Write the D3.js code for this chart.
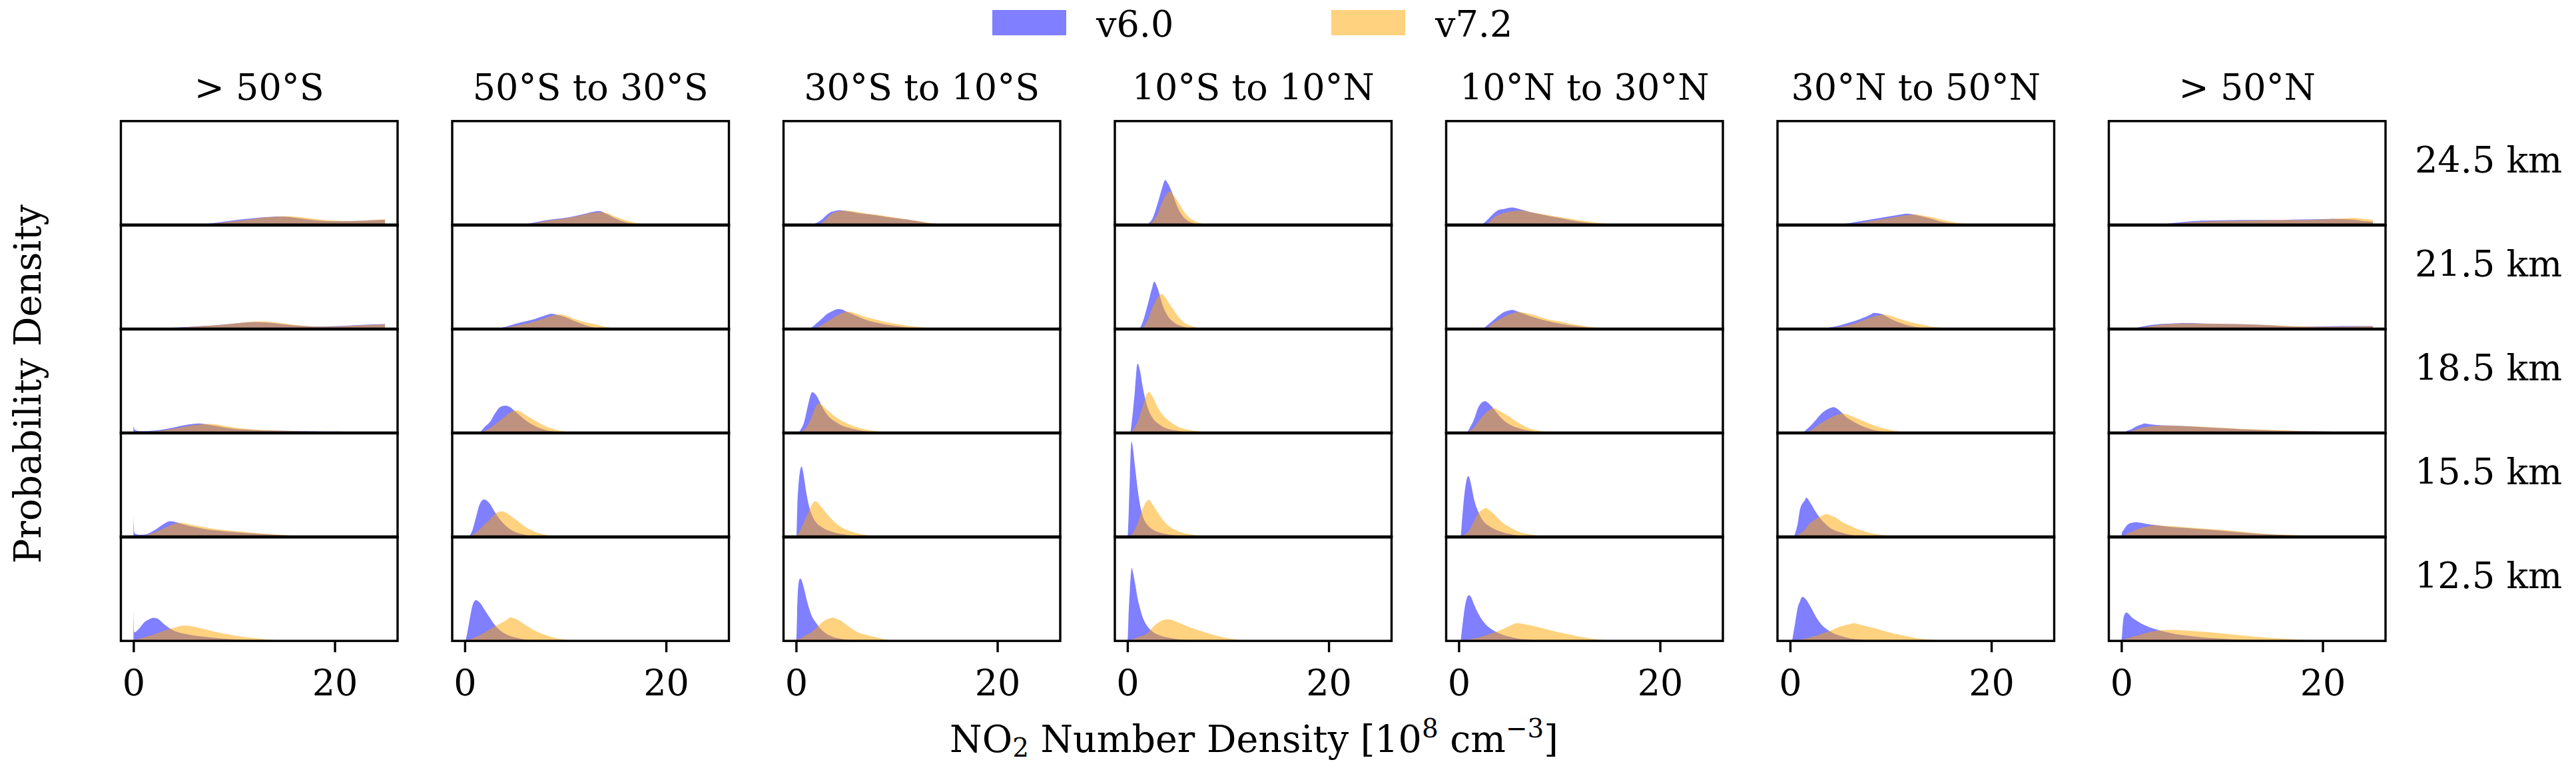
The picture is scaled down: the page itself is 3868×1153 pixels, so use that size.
<!DOCTYPE html>
<html>
<head>
<meta charset="utf-8">
<script src="https://cdn.jsdelivr.net/npm/d3@7"></script>
<style>
html, body { margin: 0; padding: 0; background: #ffffff; }
svg { display: block; }
text { font-family: "DejaVu Serif", serif; fill: #000; }
</style>
</head>
<body>
<div id="chart"></div>
<script>
// ---------------- DATA ----------------
const regions = ["> 50°S", "50°S to 30°S", "30°S to 10°S", "10°S to 10°N", "10°N to 30°N", "30°N to 50°N", "> 50°N"];
const altitudes = ["24.5 km", "21.5 km", "18.5 km", "15.5 km", "12.5 km"];
const seriesNames = ["v6.0", "v7.2"];
const seriesColors = ["#0000ff", "#ffa500"];
const xTicks = [0, 20];
const xDomain = [-1.25, 26.25];
const yDomain = [0, 1.35];

// Probability density curves: [NO2 value, density], one list per altitude (24.5 -> 12.5 km)
const v60_S50 = [
  [[6,0],[7,0.012],[8,0.028],[9,0.045],[10,0.062],[11,0.077],[12,0.09],[13,0.102],[14,0.11],[14.7,0.112],[15.5,0.105],[16,0.096],[17,0.078],[18,0.063],[19,0.053],[20,0.05],[21,0.05],[22,0.053],[23,0.058],[24,0.064],[25,0.068]],
  [[0.3,0],[0.5,0.01],[2,0.012],[4,0.018],[5,0.025],[6,0.033],[7,0.04],[8,0.048],[9,0.058],[10,0.07],[11,0.083],[12,0.09],[13,0.086],[14,0.076],[15,0.06],[16,0.047],[17,0.038],[18,0.033],[19,0.033],[20,0.037],[22,0.05],[24,0.06],[25,0.064]],
  [[0,0.088],[0.1,0.05],[0.3,0.03],[0.6,0.025],[1,0.024],[1.5,0.026],[2,0.03],[3,0.048],[4,0.072],[5,0.1],[6,0.12],[6.5,0.124],[7,0.118],[8,0.095],[9,0.072],[10,0.055],[11,0.045],[12,0.038],[14,0.03],[16,0.026],[18,0.023],[20,0.02],[22,0.017],[24,0.013],[25,0.012]],
  [[0,0.28],[0.08,0.06],[0.25,0.035],[0.5,0.03],[1,0.03],[1.5,0.045],[2,0.08],[2.5,0.125],[3,0.168],[3.6,0.205],[4,0.2],[4.5,0.182],[5,0.162],[6,0.13],[7,0.105],[8,0.087],[9,0.075],[10,0.064],[12,0.044],[14,0.026],[16,0.014],[18,0.006],[20,0.002],[22,0]],
  [[0,0.42],[0.08,0.11],[0.25,0.12],[0.5,0.15],[0.75,0.19],[1,0.232],[1.5,0.276],[2,0.3],[2.5,0.28],[3,0.222],[3.5,0.172],[4,0.134],[4.5,0.11],[5,0.094],[6,0.072],[7,0.055],[8,0.04],[9,0.03],[10,0.022],[12,0.011],[14,0.005],[16,0.002],[18,0]]
];
const v72_S50 = [
  [[6.5,0],[7,0.005],[8,0.018],[9,0.033],[10,0.048],[11,0.064],[12,0.082],[13,0.098],[14,0.108],[15,0.114],[16,0.11],[17,0.096],[18,0.08],[19,0.066],[20,0.057],[21,0.053],[22,0.054],[23,0.06],[24,0.068],[25,0.074]],
  [[2.5,0],[3,0.005],[4,0.012],[5,0.02],[6,0.03],[7,0.038],[8,0.047],[9,0.058],[10,0.07],[11,0.086],[12,0.098],[12.8,0.1],[14,0.088],[15,0.07],[16,0.053],[17,0.04],[18,0.032],[19,0.03],[20,0.032],[22,0.045],[24,0.055],[25,0.06]],
  [[0.3,0],[0.5,0.005],[1,0.01],[2,0.02],[3,0.035],[4,0.055],[5,0.08],[6,0.102],[7,0.116],[7.6,0.118],[8,0.114],[9,0.094],[10,0.072],[11,0.057],[12,0.046],[14,0.032],[16,0.024],[18,0.018],[20,0.013],[22,0.009],[24,0.006],[25,0.005]],
  [[0.3,0],[0.5,0.005],[1,0.015],[1.5,0.03],[2,0.052],[2.5,0.08],[3,0.11],[3.5,0.142],[4,0.168],[4.6,0.182],[5,0.178],[6,0.152],[7,0.128],[8,0.105],[9,0.09],[10,0.076],[12,0.054],[14,0.033],[16,0.017],[18,0.008],[20,0.003],[22,0]],
  [[0,0.015],[0.5,0.025],[1,0.044],[1.5,0.063],[2,0.083],[2.5,0.105],[3,0.13],[3.5,0.15],[4,0.168],[4.5,0.188],[5,0.198],[5.5,0.196],[6,0.186],[7,0.155],[8,0.12],[9,0.095],[10,0.072],[11,0.052],[12,0.036],[13,0.022],[14,0.012],[16,0.003],[18,0]]
];
const v60_S50_30 = [
  [[5,0],[6,0.011],[7,0.035],[8,0.061],[9,0.078],[10,0.094],[11,0.118],[12,0.149],[13,0.178],[13.3,0.182],[14,0.15],[15,0.085],[16,0.035],[17,0.01],[18,0.002],[19,0]],
  [[3,0],[4,0.028],[5,0.066],[6,0.099],[7,0.132],[8,0.176],[8.6,0.198],[9,0.19],[10,0.154],[11,0.099],[12,0.05],[13,0.017],[14,0.005],[15,0]],
  [[1.3,0],[1.5,0.01],[2,0.083],[2.5,0.143],[3,0.254],[3.5,0.336],[4,0.355],[4.5,0.336],[5,0.281],[6,0.171],[7,0.088],[8,0.039],[9,0.017],[10,0.005],[11,0]],
  [[0.4,0],[0.5,0.02],[0.75,0.083],[1,0.199],[1.5,0.43],[1.9,0.487],[2.5,0.43],[3,0.32],[3.5,0.226],[4,0.154],[4.5,0.1],[5,0.066],[6,0.028],[7,0.011],[8,0.003],[9,0]],
  [[0,0],[0.1,0.02],[0.25,0.11],[0.5,0.287],[0.75,0.452],[1.1,0.53],[1.5,0.496],[2,0.397],[2.5,0.298],[3,0.204],[3.5,0.138],[4,0.094],[4.5,0.065],[5,0.044],[6,0.017],[7,0.005],[8,0]]
];
const v72_S50_30 = [
  [[5.5,0],[6,0.005],[7,0.025],[8,0.05],[9,0.07],[10,0.088],[11,0.11],[12,0.14],[13,0.163],[13.6,0.166],[14,0.16],[15,0.108],[16,0.061],[17,0.028],[18,0.01],[19,0.003],[20,0]],
  [[3.5,0],[4,0.015],[5,0.04],[6,0.066],[7,0.1],[8,0.143],[9,0.182],[9.5,0.188],[10,0.178],[11,0.127],[12,0.088],[13,0.061],[14,0.028],[15,0.011],[16,0.003],[17,0]],
  [[1.3,0],[1.5,0.005],[2,0.028],[2.5,0.06],[3,0.11],[3.5,0.16],[4,0.215],[4.5,0.265],[5.2,0.292],[6,0.237],[7,0.16],[8,0.088],[9,0.044],[10,0.017],[11,0.005],[12,0]],
  [[0,0],[0.25,0.005],[0.5,0.015],[0.75,0.028],[1,0.044],[1.5,0.1],[2,0.165],[2.5,0.226],[3,0.298],[3.7,0.335],[4,0.322],[4.5,0.281],[5,0.232],[6,0.132],[7,0.066],[8,0.028],[9,0.011],[10,0.003],[11,0]],
  [[0,0.01],[0.5,0.02],[1,0.044],[1.5,0.075],[2,0.11],[2.5,0.15],[3,0.188],[3.5,0.225],[4,0.259],[4.6,0.305],[5,0.29],[6,0.21],[7,0.132],[8,0.077],[9,0.039],[10,0.017],[11,0.005],[12,0]]
];
const v60_S30_10 = [
  [[1.5,0],[2,0.028],[2.5,0.066],[3,0.127],[3.5,0.171],[4,0.188],[4.3,0.193],[5,0.182],[6,0.16],[7,0.143],[8,0.127],[9,0.105],[10,0.088],[11,0.072],[12,0.05],[13,0.028],[14,0.017],[15,0.005],[16,0]],
  [[1.2,0],[1.5,0.017],[2,0.072],[2.5,0.127],[3,0.188],[3.5,0.226],[4.2,0.259],[4.5,0.254],[5,0.226],[6,0.171],[7,0.116],[8,0.083],[9,0.055],[10,0.039],[11,0.022],[12,0.011],[13,0.005],[14,0]],
  [[0.25,0],[0.5,0.055],[0.75,0.121],[1,0.254],[1.25,0.4],[1.6,0.53],[2,0.49],[2.5,0.364],[3,0.254],[3.5,0.182],[4,0.138],[4.5,0.1],[5,0.077],[6,0.044],[7,0.022],[8,0.011],[9,0.005],[10,0]],
  [[0,0],[0.05,0.05],[0.1,0.3],[0.25,0.694],[0.55,0.915],[0.75,0.804],[1,0.584],[1.25,0.419],[1.5,0.309],[2,0.187],[2.5,0.132],[3,0.094],[3.5,0.07],[4,0.05],[4.5,0.038],[5,0.028],[6,0.011],[7,0.005],[8,0]],
  [[0,0],[0.05,0.1],[0.1,0.35],[0.25,0.755],[0.4,0.81],[0.5,0.8],[0.75,0.7],[1,0.562],[1.5,0.342],[2,0.232],[2.5,0.149],[3,0.094],[3.5,0.061],[4,0.039],[4.5,0.028],[5,0.017],[6,0.005],[7,0]]
];
const v72_S30_10 = [
  [[2,0],[2.5,0.022],[3,0.077],[3.5,0.143],[4,0.171],[5,0.188],[6,0.171],[7,0.149],[8,0.132],[9,0.113],[10,0.094],[11,0.075],[12,0.055],[13,0.033],[14,0.017],[15,0.008],[16,0.003],[17,0]],
  [[1.5,0],[2,0.017],[2.5,0.045],[3,0.088],[3.5,0.13],[4,0.171],[4.5,0.205],[5.2,0.225],[6,0.199],[7,0.154],[8,0.121],[9,0.088],[10,0.066],[11,0.044],[12,0.028],[13,0.017],[14,0.005],[15,0]],
  [[0.25,0],[0.5,0.017],[0.75,0.035],[1,0.066],[1.5,0.193],[2,0.35],[2.2,0.38],[2.5,0.37],[3,0.309],[3.5,0.254],[4,0.204],[4.5,0.16],[5,0.127],[6,0.077],[7,0.044],[8,0.022],[9,0.011],[10,0.005],[11,0]],
  [[0,0.01],[0.25,0.05],[0.5,0.11],[0.75,0.18],[1,0.254],[1.5,0.402],[1.9,0.463],[2.5,0.391],[3,0.309],[3.5,0.237],[4,0.171],[4.5,0.127],[5,0.094],[6,0.05],[7,0.022],[8,0.011],[9,0.005],[10,0]],
  [[0,0.02],[0.5,0.035],[1,0.077],[1.5,0.11],[2,0.165],[2.5,0.232],[3,0.276],[3.7,0.303],[4,0.287],[4.5,0.259],[5,0.21],[6,0.121],[7,0.077],[8,0.044],[9,0.017],[10,0.005],[11,0]]
];
const v60_S10_N10 = [
  [[1.9,0],[2,0.011],[2.5,0.088],[3,0.281],[3.5,0.502],[3.75,0.584],[4,0.545],[4.5,0.402],[5,0.226],[5.5,0.116],[6,0.055],[6.5,0.028],[7,0.011],[8,0.003],[9,0]],
  [[1.2,0],[1.5,0.083],[2,0.309],[2.5,0.556],[2.65,0.615],[3,0.529],[3.5,0.309],[4,0.171],[4.5,0.099],[5,0.055],[5.5,0.033],[6,0.017],[7,0.005],[8,0]],
  [[0.3,0],[0.5,0.22],[0.75,0.556],[1,0.9],[1.25,0.81],[1.5,0.612],[2,0.336],[2.5,0.198],[3,0.127],[3.5,0.083],[4,0.055],[5,0.028],[6,0.011],[7,0.005],[8,0]],
  [[0,0],[0.05,0.05],[0.1,0.22],[0.25,0.804],[0.4,1.24],[0.5,1.19],[0.75,0.915],[1,0.639],[1.25,0.419],[1.5,0.281],[2,0.154],[2.5,0.099],[3,0.066],[4,0.033],[5,0.017],[6,0.005],[7,0]],
  [[0,0],[0.05,0.08],[0.1,0.276],[0.25,0.672],[0.45,0.95],[0.5,0.92],[0.75,0.755],[1,0.562],[1.25,0.424],[1.5,0.314],[2,0.187],[2.5,0.121],[3,0.083],[4,0.044],[5,0.022],[6,0.011],[7,0.005],[8,0]]
];
const v72_S10_N10 = [
  [[1.8,0],[2.5,0.044],[3,0.143],[3.5,0.309],[4,0.419],[4.2,0.435],[4.5,0.402],[5,0.309],[5.5,0.198],[6,0.116],[6.5,0.066],[7,0.033],[7.5,0.017],[8,0.008],[9,0.003],[10,0]],
  [[1.3,0],[1.5,0.017],[2,0.11],[2.5,0.281],[3,0.408],[3.4,0.455],[3.5,0.45],[4,0.364],[4.5,0.265],[5,0.171],[5.5,0.099],[6,0.055],[6.5,0.033],[7,0.017],[8,0.005],[9,0]],
  [[0.2,0],[0.5,0.028],[1,0.138],[1.5,0.336],[2,0.52],[2.1,0.535],[2.5,0.474],[3,0.336],[3.5,0.237],[4,0.171],[4.5,0.121],[5,0.083],[6,0.044],[7,0.022],[8,0.011],[9,0.005],[10,0]],
  [[0.1,0],[0.5,0.044],[1,0.171],[1.5,0.364],[2,0.474],[2.1,0.485],[2.5,0.42],[3,0.32],[3.5,0.226],[4,0.154],[4.5,0.11],[5,0.077],[6,0.039],[7,0.017],[8,0.008],[9,0.003],[10,0]],
  [[0,0],[0.5,0.02],[1,0.044],[1.5,0.066],[2,0.099],[2.5,0.176],[3,0.232],[3.5,0.268],[4,0.28],[4.5,0.268],[5,0.242],[6,0.187],[7,0.143],[8,0.1],[9,0.062],[10,0.035],[11,0.015],[12,0.005],[13,0]]
];
const v60_N10_30 = [
  [[2.2,0],[2.5,0.028],[3,0.088],[3.5,0.154],[4,0.198],[4.5,0.209],[5.3,0.228],[6,0.209],[7,0.171],[8,0.143],[9,0.116],[10,0.094],[11,0.066],[12,0.044],[13,0.028],[14,0.017],[15,0.005],[16,0]],
  [[2.4,0],[3,0.066],[3.5,0.121],[4,0.176],[4.5,0.22],[5,0.242],[5.3,0.248],[6,0.22],[7,0.171],[8,0.132],[9,0.099],[10,0.072],[11,0.05],[12,0.033],[13,0.017],[14,0.008],[15,0]],
  [[0.8,0],[1,0.044],[1.5,0.171],[2,0.347],[2.6,0.413],[3,0.38],[3.5,0.309],[4,0.226],[4.5,0.16],[5,0.116],[6,0.061],[7,0.028],[8,0.011],[9,0.005],[10,0]],
  [[0.2,0],[0.5,0.474],[0.75,0.722],[0.95,0.79],[1.25,0.667],[1.5,0.501],[2,0.309],[2.5,0.198],[3,0.143],[3.5,0.105],[4,0.077],[5,0.039],[6,0.017],[7,0.005],[8,0]],
  [[0.2,0],[0.5,0.342],[0.75,0.534],[1,0.595],[1.25,0.562],[1.5,0.479],[2,0.342],[2.5,0.242],[3,0.176],[3.5,0.132],[4,0.099],[5,0.055],[6,0.028],[7,0.017],[8,0.005],[9,0]]
];
const v72_N10_30 = [
  [[2.5,0],[3,0.033],[3.5,0.099],[4,0.132],[5,0.171],[6.2,0.187],[7,0.171],[8,0.149],[9,0.127],[10,0.105],[11,0.083],[12,0.061],[13,0.044],[14,0.028],[15,0.017],[16,0.008],[17,0]],
  [[2.8,0],[3,0.028],[4,0.121],[5,0.187],[6,0.22],[7,0.198],[8,0.16],[9,0.121],[10,0.099],[11,0.072],[12,0.05],[13,0.028],[14,0.017],[15,0.008],[16,0]],
  [[0.8,0],[1,0.022],[1.5,0.066],[2,0.154],[2.5,0.237],[3,0.292],[3.5,0.32],[4,0.292],[4.5,0.253],[5,0.215],[6,0.127],[7,0.061],[8,0.028],[9,0.011],[10,0.005],[11,0]],
  [[0.2,0],[0.5,0.028],[1,0.077],[1.5,0.198],[2,0.32],[2.5,0.364],[2.7,0.378],[3,0.353],[3.5,0.298],[4,0.231],[4.5,0.171],[5,0.132],[6,0.066],[7,0.033],[8,0.017],[9,0.005],[10,0]],
  [[0.5,0],[1,0.017],[2,0.044],[3,0.088],[4,0.132],[5,0.19],[5.5,0.222],[5.8,0.23],[6,0.228],[7,0.205],[8,0.176],[9,0.143],[10,0.11],[11,0.083],[12,0.055],[13,0.033],[14,0.017],[15,0.008],[16,0]]
];
const v60_N30_50 = [
  [[4.5,0],[5,0.011],[6,0.028],[7,0.05],[8,0.072],[9,0.094],[10,0.116],[11,0.138],[11.6,0.149],[12,0.143],[13,0.116],[14,0.083],[15,0.044],[16,0.022],[17,0.011],[18,0.005],[19,0]],
  [[3,0],[4,0.022],[5,0.05],[6,0.088],[7,0.132],[8,0.187],[8.3,0.209],[9,0.198],[10,0.132],[11,0.077],[12,0.039],[13,0.017],[14,0.005],[15,0]],
  [[1.3,0],[1.5,0.028],[2,0.088],[2.5,0.16],[3,0.237],[3.5,0.292],[4,0.325],[4.3,0.336],[4.5,0.33],[5,0.281],[5.5,0.215],[6,0.171],[7,0.099],[8,0.05],[9,0.022],[10,0.011],[11,0.005],[12,0]],
  [[0.4,0],[0.5,0.044],[0.75,0.165],[1,0.364],[1.5,0.485],[1.6,0.512],[2,0.446],[2.5,0.336],[3,0.242],[3.5,0.171],[4,0.116],[5,0.061],[6,0.028],[7,0.011],[8,0.005],[9,0]],
  [[0.2,0],[0.5,0.231],[0.75,0.424],[1,0.518],[1.2,0.573],[1.5,0.551],[2,0.452],[2.5,0.331],[3,0.231],[3.5,0.165],[4,0.121],[5,0.066],[6,0.033],[7,0.017],[8,0.005],[9,0]]
];
const v72_N30_50 = [
  [[5,0],[6,0.01],[7,0.028],[8,0.05],[9,0.072],[10,0.094],[11,0.116],[12,0.132],[12.5,0.138],[13,0.127],[14,0.105],[15,0.072],[16,0.044],[17,0.022],[18,0.011],[19,0.005],[20,0]],
  [[3.5,0],[4,0.01],[5,0.028],[6,0.055],[7,0.099],[8,0.149],[9,0.182],[9.3,0.187],[10,0.171],[11,0.127],[12,0.088],[13,0.061],[14,0.033],[15,0.017],[16,0.005],[17,0]],
  [[1.5,0],[2,0.028],[3,0.121],[4,0.198],[5,0.248],[5.2,0.253],[6,0.226],[7,0.171],[8,0.116],[9,0.072],[10,0.039],[11,0.017],[12,0.008],[13,0.003],[14,0]],
  [[0.3,0],[1,0.044],[1.5,0.099],[2,0.182],[2.5,0.226],[3,0.264],[3.7,0.298],[4,0.281],[4.5,0.253],[5,0.209],[6,0.143],[7,0.088],[8,0.05],[9,0.028],[10,0.011],[11,0.005],[12,0]],
  [[0.3,0],[1,0.017],[2,0.044],[3,0.088],[4,0.132],[5,0.187],[6,0.22],[6.3,0.231],[7,0.209],[8,0.176],[9,0.143],[10,0.105],[11,0.077],[12,0.05],[13,0.028],[14,0.017],[15,0.005],[16,0]]
];
const v60_N50 = [
  [[4.3,0],[4.5,0.014],[5,0.024],[6,0.038],[8,0.057],[10,0.062],[12,0.067],[14,0.067],[16,0.067],[18,0.072],[20,0.077],[21,0.081],[22,0.077],[23,0.072],[24,0.053],[25,0.043]],
  [[1,0],[1.5,0.014],[2,0.029],[3,0.053],[4,0.067],[5,0.072],[6,0.077],[7,0.077],[8,0.072],[10,0.067],[12,0.062],[14,0.053],[16,0.038],[18,0.029],[20,0.034],[22,0.038],[24,0.038],[25,0.038]],
  [[0.2,0],[0.5,0.024],[1,0.048],[1.5,0.086],[2,0.11],[2.3,0.124],[3,0.11],[4,0.1],[5,0.096],[6,0.091],[8,0.077],[10,0.062],[12,0.048],[14,0.038],[16,0.029],[18,0.024],[20,0.019],[22,0.014],[24,0.01],[25,0.005]],
  [[0,0],[0.05,0.05],[0.25,0.096],[0.5,0.144],[1,0.182],[1.5,0.191],[2,0.182],[3,0.158],[4,0.144],[5,0.129],[6,0.12],[8,0.1],[10,0.081],[12,0.057],[14,0.038],[16,0.024],[18,0.014],[20,0.01],[22,0.005],[24,0.002],[25,0]],
  [[0,0],[0.05,0.05],[0.1,0.144],[0.25,0.321],[0.5,0.369],[0.75,0.345],[1,0.311],[1.5,0.263],[2,0.225],[3,0.168],[4,0.129],[5,0.1],[6,0.077],[8,0.048],[10,0.029],[12,0.014],[14,0.01],[16,0.005],[18,0.002],[19,0]]
];
const v72_N50 = [
  [[5,0],[6,0.024],[8,0.043],[10,0.053],[12,0.058],[14,0.062],[16,0.065],[18,0.067],[20,0.072],[22,0.086],[23,0.091],[24,0.081],[25,0.067]],
  [[1.5,0],[2,0.014],[3,0.038],[4,0.057],[6,0.072],[8,0.072],[10,0.067],[12,0.062],[14,0.053],[16,0.043],[18,0.034],[20,0.029],[22,0.029],[24,0.034],[25,0.034]],
  [[0.3,0],[1,0.024],[2,0.067],[3,0.086],[4,0.096],[5,0.096],[6,0.091],[8,0.081],[10,0.067],[12,0.053],[14,0.043],[16,0.034],[18,0.024],[20,0.019],[22,0.014],[24,0.01],[25,0.005]],
  [[0.1,0],[0.5,0.038],[1,0.067],[1.5,0.096],[2,0.12],[2.5,0.134],[3,0.144],[3.5,0.153],[4,0.148],[5,0.139],[6,0.129],[8,0.11],[10,0.091],[12,0.067],[14,0.043],[16,0.029],[18,0.019],[20,0.01],[22,0.005],[24,0.002],[25,0]],
  [[0.1,0],[0.5,0.029],[1,0.048],[2,0.086],[3,0.12],[4,0.139],[5,0.144],[6,0.139],[7,0.129],[8,0.12],[10,0.096],[12,0.072],[14,0.048],[16,0.029],[18,0.014],[20,0.007],[22,0.002],[23,0]]
];

const v60 = [v60_S50, v60_S50_30, v60_S30_10, v60_S10_N10, v60_N10_30, v60_N30_50, v60_N50];
const v72 = [v72_S50, v72_S50_30, v72_S30_10, v72_S10_N10, v72_N10_30, v72_N30_50, v72_N50];
const seriesData = [v60, v72];

// ---------------- LAYOUT ----------------
const W = 3868, H = 1153;
const FS = 54;       // titles, ticks, row labels, legend
const FSL = 55.5;    // axis labels
const left0 = 181.5, colStep = 497.5, panelW = 415.5;
const top0 = 181.8, rowH = 156.08;
const spineW = 3.4;
const sepW = 4.6;

const svg = d3.select("#chart").append("svg")
  .attr("width", W).attr("height", H)
  .attr("viewBox", `0 0 ${W} ${H}`);
svg.append("rect").attr("width", W).attr("height", H).attr("fill", "#fff");

const x = d3.scaleLinear().domain(xDomain).range([0, panelW]);
const y = d3.scaleLinear().domain(yDomain).range([rowH, 0]);
const area = d3.area()
  .x(d => x(d[0]))
  .y0(y(0))
  .y1(d => y(d[1]))
  .curve(d3.curveMonotoneX);

const defs = svg.append("defs");
defs.append("clipPath").attr("id", "panelClip")
  .append("rect").attr("x", 0).attr("y", 0).attr("width", panelW).attr("height", rowH);

regions.forEach((reg, c) => {
  const cx = left0 + c * colStep;
  altitudes.forEach((alt, r) => {
    const g = svg.append("g").attr("transform", `translate(${cx},${top0 + r * rowH})`);
    const gc = g.append("g").attr("clip-path", "url(#panelClip)");
    seriesData.forEach((sd, s) => {
      gc.append("path")
        .datum(sd[c][r])
        .attr("d", area)
        .attr("fill", seriesColors[s])
        .attr("fill-opacity", 0.5);
    });
  });
});

// spines (drawn above the histograms)
regions.forEach((reg, c) => {
  const cx = left0 + c * colStep;
  altitudes.forEach((alt, r) => {
    svg.append("rect")
      .attr("x", cx).attr("y", top0 + r * rowH)
      .attr("width", panelW).attr("height", rowH)
      .attr("fill", "none").attr("stroke", "#000").attr("stroke-width", spineW);
  });
  // shared row boundaries (top/bottom spines of neighbouring axes) look heavier
  for (let r = 1; r < altitudes.length; r++) {
    svg.append("line")
      .attr("x1", cx - spineW / 2).attr("x2", cx + panelW + spineW / 2)
      .attr("y1", top0 + r * rowH).attr("y2", top0 + r * rowH)
      .attr("stroke", "#000").attr("stroke-width", sepW);
  }
  // column title
  svg.append("text")
    .attr("x", cx + panelW / 2).attr("y", 149.5)
    .attr("text-anchor", "middle").attr("font-size", FS)
    .text(reg);
  // bottom axis
  const ax = svg.append("g")
    .attr("transform", `translate(${cx},${top0 + 5 * rowH})`)
    .call(d3.axisBottom(x).tickValues(xTicks).tickSize(17).tickFormat(d3.format("d")));
  ax.select(".domain").remove();
  ax.selectAll(".tick line").attr("stroke", "#000").attr("stroke-width", spineW);
  ax.selectAll(".tick text")
    .attr("y", 82).attr("dy", 0)
    .attr("font-size", FS).attr("font-family", "DejaVu Serif").attr("fill", "#000");
});

// row labels (altitudes)
altitudes.forEach((alt, r) => {
  svg.append("text")
    .attr("x", 3626).attr("y", top0 + r * rowH + rowH / 2 - 1)
    .attr("font-size", FS)
    .text(alt);
});

// y label
svg.append("text")
  .attr("transform", "translate(60.5,576.5) rotate(-90)")
  .attr("text-anchor", "middle").attr("font-size", FSL)
  .text("Probability Density");

// x label with sub/superscripts
const xl = svg.append("text")
  .attr("x", 1883).attr("y", 1128.7)
  .attr("text-anchor", "middle").attr("font-size", FSL);
xl.append("tspan").text("NO");
xl.append("tspan").attr("font-size", FSL * 0.7).attr("dy", 7.5).text("2");
xl.append("tspan").attr("dy", -7.5).text(" Number Density [10");
xl.append("tspan").attr("font-size", FSL * 0.7).attr("dy", -22).text("8");
xl.append("tspan").attr("dy", 22).text(" cm");
xl.append("tspan").attr("font-size", FSL * 0.7).attr("dy", -22).text("\u22123");
xl.append("tspan").attr("dy", 22).text("]");

// legend
const legendX = [1490, 1999];
seriesNames.forEach((name, s) => {
  svg.append("rect")
    .attr("x", legendX[s]).attr("y", 15)
    .attr("width", 111).attr("height", 38)
    .attr("fill", seriesColors[s]).attr("fill-opacity", 0.5);
  svg.append("text")
    .attr("x", legendX[s] + 156).attr("y", 55)
    .attr("font-size", FS)
    .text(name);
});
</script>
</body>
</html>
